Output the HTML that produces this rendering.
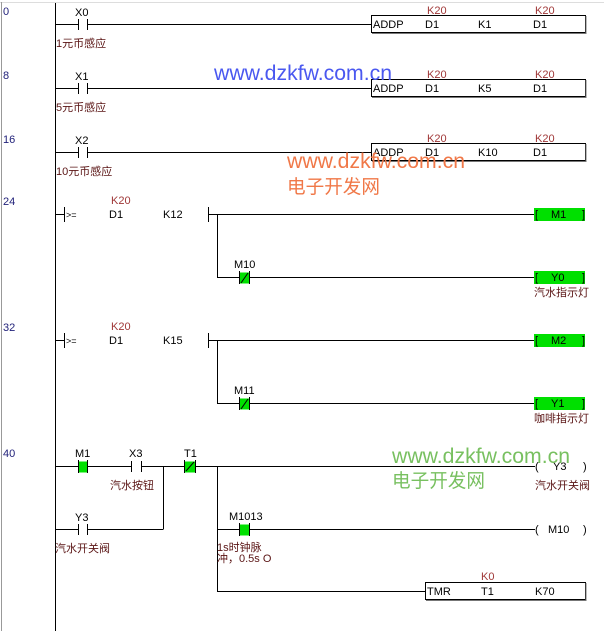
<!DOCTYPE html>
<html><head><meta charset="utf-8"><style>
html,body{margin:0;padding:0;background:#fff;width:604px;height:631px;overflow:hidden}
text{font-family:"Liberation Sans","Noto Sans CJK SC",sans-serif;font-size:11px;fill:#000}
.n{fill:#22227a;font-size:11px}
.k{fill:#a03838;font-size:11px}
.c{fill:#5a1414;font-size:11px}
</style></head><body>
<svg width="604" height="631" viewBox="0 0 604 631" xmlns="http://www.w3.org/2000/svg">
<g stroke-width="1" shape-rendering="crispEdges">
<line x1="0" y1="2.5" x2="604" y2="2.5" stroke="#ddd"/>
<line x1="1.5" y1="2" x2="1.5" y2="631" stroke="#999"/>
<line x1="55.5" y1="3" x2="55.5" y2="631" stroke="#000"/>
</g>
<g stroke="#000" stroke-width="1" fill="none" shape-rendering="crispEdges">
<path d="M55 24.5H78M88 24.5H371"/><path d="M78.5 19V30M87.5 19V30"/>
<path d="M55 88.5H78M88 88.5H371"/><path d="M78.5 83V94M87.5 83V94"/>
<path d="M55 152.5H78M88 152.5H371"/><path d="M78.5 147V158M87.5 147V158"/>
<path d="M55 214.5H64M64.5 207V222M208.5 207V222M208 214.5H534M217.5 214V277.5M217 277.5H239M250 277.5H534"/>
<path d="M55 340.5H64M64.5 333V348M208.5 333V348M208 340.5H534M217.5 340V403.5M217 403.5H239M250 403.5H534"/>
<path d="M55 466.5H78M88 466.5H131M142 466.5H184M196 466.5H535"/>
<path d="M131.5 461V472M141.5 461V472"/>
<path d="M163.5 466V529.5M55 529.5H78M88 529.5H163"/><path d="M78.5 524V535M87.5 524V535"/>
<path d="M217.5 466V591.5M217 529.5H239M250 529.5H535M217 591.5H425"/>
</g>
<g fill="#00e000" stroke="#000" shape-rendering="crispEdges">
<rect x="78.5" y="461.5" width="9" height="11" stroke="none"/><path d="M78.5 460V473M87.5 460V473" fill="none"/>
<rect x="184.5" y="461.5" width="11" height="11" stroke="none"/><path d="M184.5 460V473M195.5 460V473" fill="none"/>
<rect x="239.5" y="272.5" width="10" height="11" stroke="none"/><path d="M239.5 271V284M249.5 271V284" fill="none"/>
<rect x="239.5" y="398.5" width="10" height="11" stroke="none"/><path d="M239.5 397V410M249.5 397V410" fill="none"/>
<rect x="239.5" y="524.5" width="10" height="11" stroke="none"/><path d="M239.5 523V536M249.5 523V536" fill="none"/>
</g>
<g stroke="#000" stroke-width="1"><line x1="186" y1="471" x2="194" y2="462"/><line x1="241" y1="283" x2="248" y2="273"/><line x1="241" y1="409" x2="248" y2="399"/></g>
<g fill="#00e000">
<rect x="534" y="208" width="51" height="13"/><rect x="534" y="271" width="51" height="13"/>
<rect x="534" y="334" width="51" height="13"/><rect x="534" y="397" width="51" height="13"/>
</g>
<g fill="none" shape-rendering="crispEdges">
<rect x="371.5" y="15.5" width="214" height="17" stroke="#000"/>
<rect x="371.5" y="79.5" width="214" height="17" stroke="#000"/>
<rect x="371.5" y="143.5" width="214" height="17" stroke="#000"/>
<rect x="425.5" y="582.5" width="160" height="17" stroke="#000"/>
<path d="M586 16V34M372 33.5H586M586 80V98M372 97.5H586M586 144V162M372 161.5H586M586 583V601M426 600.5H586" stroke="#777"/>
</g>
<text class="n" x="3" y="15">0</text><text class="n" x="3" y="79">8</text><text class="n" x="3" y="143">16</text>
<text class="n" x="3" y="205">24</text><text class="n" x="3" y="331">32</text><text class="n" x="3" y="457">40</text>
<text x="75" y="16">X0</text><text class="c" x="56" y="47">1元币感应</text>
<text x="75" y="80">X1</text><text class="c" x="56" y="111">5元币感应</text>
<text x="75" y="144">X2</text><text class="c" x="56" y="175">10元币感应</text>
<g>
<text class="k" x="427" y="14">K20</text><text class="k" x="535" y="14">K20</text>
<text x="373" y="28">ADDP</text><text x="425" y="28">D1</text><text x="478" y="28">K1</text><text x="533" y="28">D1</text>
<text class="k" x="427" y="78">K20</text><text class="k" x="535" y="78">K20</text>
<text x="373" y="92">ADDP</text><text x="425" y="92">D1</text><text x="478" y="92">K5</text><text x="533" y="92">D1</text>
<text class="k" x="427" y="142">K20</text><text class="k" x="535" y="142">K20</text>
<text x="373" y="156">ADDP</text><text x="425" y="156">D1</text><text x="478" y="156">K10</text><text x="533" y="156">D1</text>
</g>
<text x="66" y="218" style="font-size:9px">&gt;=</text><text class="k" x="111" y="204">K20</text><text x="109" y="218">D1</text><text x="163" y="218">K12</text>
<text x="234" y="268">M10</text>
<text x="535" y="218">[</text><text x="551" y="218">M1</text><text x="582" y="218">]</text>
<text x="535" y="281">[</text><text x="551" y="281">Y0</text><text x="582" y="281">]</text>
<text class="c" x="534" y="296">汽水指示灯</text>
<text x="66" y="344" style="font-size:9px">&gt;=</text><text class="k" x="111" y="330">K20</text><text x="109" y="344">D1</text><text x="163" y="344">K15</text>
<text x="234" y="394">M11</text>
<text x="535" y="344">[</text><text x="551" y="344">M2</text><text x="582" y="344">]</text>
<text x="535" y="407">[</text><text x="551" y="407">Y1</text><text x="582" y="407">]</text>
<text class="c" x="534" y="422">咖啡指示灯</text>
<text x="75" y="457">M1</text><text x="129" y="457">X3</text><text x="184" y="457">T1</text>
<text class="c" x="110" y="489">汽水按钮</text>
<text x="75" y="521">Y3</text><text class="c" x="55" y="552">汽水开关阀</text>
<text x="229" y="520">M1013</text>
<text class="c" x="217" y="551">1s时钟脉</text><text class="c" x="217" y="562">冲，0.5s O</text>
<text x="535" y="470">(</text><text x="553" y="470">Y3</text><text x="583" y="470">)</text>
<text class="c" x="535" y="489">汽水开关阀</text>
<text x="535" y="533">(</text><text x="548" y="533">M10</text><text x="583" y="533">)</text>
<text class="k" x="481" y="580">K0</text>
<text x="427" y="595">TMR</text><text x="481" y="595">T1</text><text x="535" y="595">K70</text>
<text x="214" y="80" textLength="178" lengthAdjust="spacingAndGlyphs" style="font-size:21px;fill:#4a58f0">www.dzkfw.com.cn</text>
<text x="287" y="168" textLength="178" lengthAdjust="spacingAndGlyphs" style="font-size:21px;fill:#f07848">www.dzkfw.com.cn</text>
<text x="287" y="193" textLength="93" lengthAdjust="spacingAndGlyphs" style="font-size:19px;fill:#f07848">电子开发网</text>
<text x="392" y="463" textLength="178" lengthAdjust="spacingAndGlyphs" style="font-size:21px;fill:#78c060">www.dzkfw.com.cn</text>
<text x="392" y="487" textLength="93" lengthAdjust="spacingAndGlyphs" style="font-size:19px;fill:#78c060">电子开发网</text>
</svg>
</body></html>
